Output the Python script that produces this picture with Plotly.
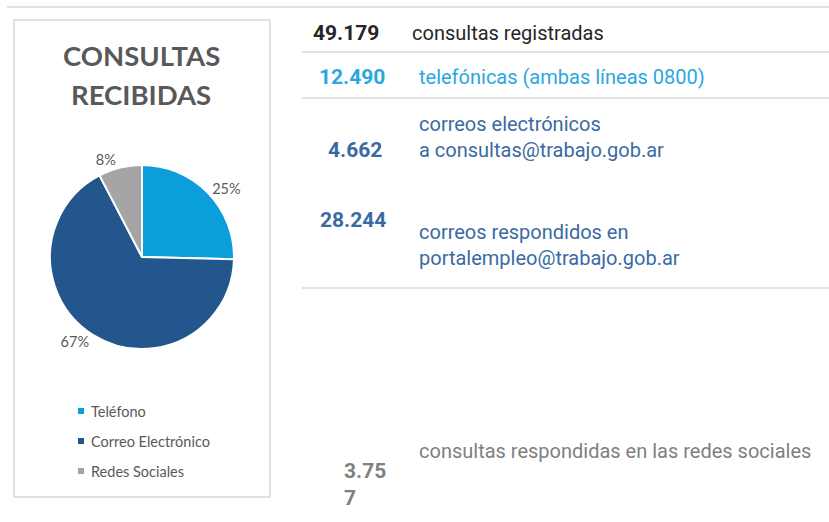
import plotly.graph_objects as go

# ---- data ----
categories = ["Teléfono", "Correo Electrónico", "Redes Sociales"]
telefono = 12490
correos_consultas = 4662
correos_portal = 28244
redes = 3757
total_registradas = 49179
pie_values = [telefono, correos_consultas + correos_portal, redes]
pie_colors = ["#0A9FDB", "#22568C", "#A5A5A5"]

row_numbers = ["49.179", "12.490", "4.662", "28.244", "3.75<br>7"]
row_texts = [
    "consultas registradas",
    "telefónicas (ambas líneas 0800)",
    "correos electrónicos<br>a consultas@trabajo.gob.ar",
    "correos respondidos en<br>portalempleo@trabajo.gob.ar",
    "consultas respondidas en las redes sociales",
]
row_colors = ["#262626", "#2CA6E0", "#3A6AA3", "#3A6AA3", "#7F7F7F"]

W, H = 829, 522

def px(x):
    return x / W

def py(y):
    return 1 - y / H

fig = go.Figure()
fig.add_trace(go.Pie(
    labels=categories,
    values=pie_values,
    sort=False,
    direction="clockwise",
    rotation=0,
    marker=dict(colors=pie_colors, line=dict(color="white", width=2)),
    textinfo="percent",
    texttemplate="%{percent:.0%}",
    textposition="outside",
    textfont=dict(family="Lato", size=14.5, color="#595959"),
    domain=dict(x=[px(50), px(234)], y=[py(349), py(165)]),
    hoverinfo="label+value+percent",
    showlegend=False,
))

shapes = []
# box around chart
shapes.append(dict(type="rect", xref="paper", yref="paper",
                   x0=px(14), x1=px(270), y0=py(497), y1=py(20),
                   line=dict(color="#D9D9D9", width=1.5), fillcolor="rgba(0,0,0,0)"))
# separator lines
shapes.append(dict(type="line", xref="paper", yref="paper",
                   x0=px(7), x1=1, y0=py(7), y1=py(7), line=dict(color="#E3E3E3", width=2)))
for yy in [52, 98, 288]:
    shapes.append(dict(type="line", xref="paper", yref="paper",
                       x0=px(302), x1=1, y0=py(yy), y1=py(yy), line=dict(color="#E3E3E3", width=2)))

annotations = []
# title
for t, ty in [("CONSULTAS", 55), ("RECIBIDAS", 95)]:
    annotations.append(dict(text="<b>" + t + "</b>", x=px(141), y=py(ty),
                            xref="paper", yref="paper", showarrow=False,
                            font=dict(family="Lato", size=27.5, color="#595959"),
                            xanchor="center", yanchor="middle"))

# manual legend (squares + labels)
leg_y = [411, 441, 471]
for i, cat in enumerate(categories):
    shapes.append(dict(type="rect", xref="paper", yref="paper",
                       x0=px(78), x1=px(84), y0=py(leg_y[i] + 3), y1=py(leg_y[i] - 3),
                       line=dict(width=0), fillcolor=pie_colors[i]))
    annotations.append(dict(text=cat, x=px(89), y=py(leg_y[i]),
                            xref="paper", yref="paper", showarrow=False,
                            xanchor="left", yanchor="middle",
                            font=dict(family="Lato", size=14.5, color="#595959")))

# right-side table
num_pos = [(345.5, 33, "center"), (352, 77, "center"), (354.5, 150, "center"),
           (353, 220, "center"), (342, 484, "left")]
txt_pos = [(410, 33), (417, 77), (417, 137), (417, 245), (417, 451)]
for i in range(len(row_numbers)):
    nx, ny, anc = num_pos[i]
    annotations.append(dict(text="<b>" + row_numbers[i] + "</b>", x=px(nx), y=py(ny),
                            xref="paper", yref="paper", showarrow=False,
                            xanchor=anc, yanchor="middle", align="left",
                            font=dict(family="Roboto", size=21, color=row_colors[i])))
    tx, ty = txt_pos[i]
    annotations.append(dict(text=row_texts[i], x=px(tx), y=py(ty),
                            xref="paper", yref="paper", showarrow=False,
                            xanchor="left", yanchor="middle", align="left",
                            font=dict(family="Roboto", size=20, color=row_colors[i])))

fig.update_layout(
    width=W, height=H,
    margin=dict(l=0, r=0, t=0, b=0),
    paper_bgcolor="white", plot_bgcolor="white",
    shapes=shapes, annotations=annotations,
    showlegend=False,
)

fig.write_html("out.html", config={"displayModeBar": False},
               post_script="document.body.style.margin='0';")
